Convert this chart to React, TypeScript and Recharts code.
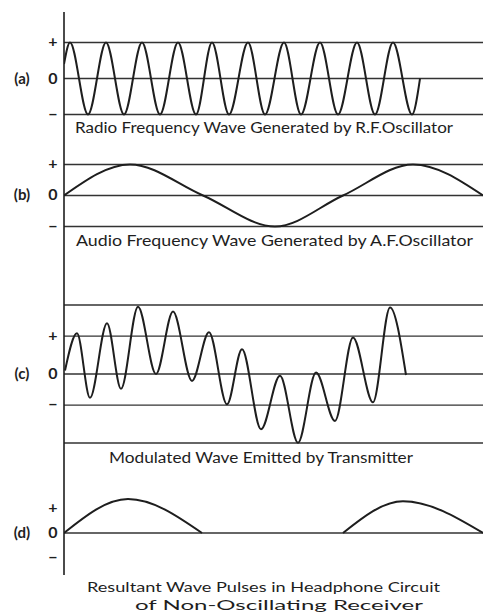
import { LineChart, Line, XAxis, YAxis, ReferenceLine } from 'recharts';

// time axis shared by all four traces (arbitrary units, 0 = vertical axis)
const timeDomain: [number, number] = [0, 419];

// (a) radio frequency carrier: start, then alternating crests / troughs
const rfTime = [0, 6, 24, 42, 60, 78, 96, 114, 132, 148, 165, 184, 201, 220, 237, 256, 274, 293, 311, 329, 348, 356];
const rfLevel = [0.4, 1, -1, 1, -1, 1, -1, 1, -1, 1, -1, 1, -1, 1, -1, 1, -1, 1, -1, 1, -1, 0];

// (b) audio frequency wave
const afTime = [0, 66, 139, 211, 279, 349, 419];
const afLevel = [0, 1, 0, -1, 0, 1, 0];

// (c) modulated wave
const modTime = [1, 13, 26, 43, 57, 74, 92, 109, 128, 145, 163, 178, 197, 216, 234, 252, 271, 289, 309, 326, 342];
const modLevel = [0.1, 1.18, -0.69, 1.47, -0.43, 1.95, 0, 1.81, -0.2, 1.21, -0.88, 0.72, -1.6, -0.05, -1.99, 0.04, -1.36, 1.06, -0.82, 1.93, -0.03];

// (d) rectified pulses in the headphone circuit
const pulse1Time = [0, 64, 138];
const pulse1Level = [0, 1.36, 0];
const pulse2Time = [279, 339, 419];
const pulse2Level = [0, 1.27, 0];

// guide lines drawn across each panel
const guidesA = [1, 0, -1];
const guidesB = [1, 0, -1];
const guidesC = [2, 1.1, 0, -0.9, -2];
const guidesD = [0];

const signTicksA = [1, 0, -1];
const signTicksB = [1, 0, -1];
const signTicksC = [1.1, 0, -0.9];
const signTicksD = [1, 0, -1];

const INK = '#1e1e1e';
const FONT = 'Lato, "Open Sans", sans-serif';

const toRows = (t: number[], v: number[]) => t.map((x, i) => ({ t: x, v: v[i] }));

function SignTick({ y, payload, tag }: any) {
    const val = payload.value;
    const sym = val > 0 ? '+' : val < 0 ? '\u2212' : '0';
    return (
        <g>
            <text x={53} y={y} dy={5} textAnchor="middle" fontSize={16} fontWeight={700} fill={INK} fontFamily={FONT}>
                {sym}
            </text>
            {val === 0 && (
                <text x={22} y={y} dy={5} textAnchor="middle" fontSize={15} fontWeight={700} fill={INK} fontFamily={FONT}>
                    {tag}
                </text>
            )}
        </g>
    );
}

interface PanelProps {
    height: number;
    top?: number;
    domain: [number, number];
    ticks: number[];
    guides: number[];
    tag: string;
    series: { t: number; v: number }[][];
}

function Panel({ height, top = 0, domain, ticks, guides, tag, series }: PanelProps) {
    return (
        <LineChart width={483} height={height} margin={{ top, right: 0, bottom: 0, left: 0 }}>
            <XAxis type="number" dataKey="t" domain={timeDomain} allowDataOverflow hide />
            <YAxis
                type="number"
                domain={domain}
                allowDataOverflow
                ticks={ticks}
                width={64}
                interval={0}
                tickLine={false}
                axisLine={{ stroke: INK, strokeWidth: 1.6 }}
                tick={(p: any) => <SignTick {...p} tag={tag} />}
            />
            {guides.map((g) => (
                <ReferenceLine key={g} y={g} stroke="#333" strokeWidth={1.3} />
            ))}
            {series.map((d, i) => (
                <Line
                    key={i}
                    data={d}
                    dataKey="v"
                    type="monotone"
                    stroke={INK}
                    strokeWidth={2}
                    dot={false}
                    activeDot={false}
                    isAnimationActive={false}
                />
            ))}
        </LineChart>
    );
}

const captionStyle = { fontFamily: FONT, fontSize: 16, fill: INK };
const footStyle = { fontFamily: FONT, fontSize: 14, fill: INK };

export default function App() {
    return (
        <div style={{ position: 'absolute', left: 0, top: 0, width: 483, height: 616, background: '#fff' }}>
            <Panel height={140} top={12} domain={[-1.708, 1.847]} ticks={signTicksA} guides={guidesA} tag="(a)"
                series={[toRows(rfTime, rfLevel)]} />
            <Panel height={122} domain={[-2.145, 1.79]} ticks={signTicksB} guides={guidesB} tag="(b)"
                series={[toRows(afTime, afLevel)]} />
            <Panel height={208} domain={[-2.783, 3.246]} ticks={signTicksC} guides={guidesC} tag="(c)"
                series={[toRows(modTime, modLevel)]} />
            <Panel height={105} domain={[-1.68, 2.52]} ticks={signTicksD} guides={guidesD} tag="(d)"
                series={[toRows(pulse1Time, pulse1Level), toRows(pulse2Time, pulse2Level)]} />
            <svg width={483} height={616} style={{ position: 'absolute', left: 0, top: 0, pointerEvents: 'none' }}>
                <text x={75} y={133} textLength={378} lengthAdjust="spacingAndGlyphs" style={captionStyle}>
                    Radio Frequency Wave Generated by R.F.Oscillator
                </text>
                <text x={76} y={246} textLength={397} lengthAdjust="spacingAndGlyphs" style={captionStyle}>
                    Audio Frequency Wave Generated by A.F.Oscillator
                </text>
                <text x={109} y={463} textLength={304} lengthAdjust="spacingAndGlyphs" style={captionStyle}>
                    Modulated Wave Emitted by Transmitter
                </text>
                <text x={87} y={592} textLength={353} lengthAdjust="spacingAndGlyphs" style={footStyle}>
                    Resultant Wave Pulses in Headphone Circuit
                </text>
                <text x={135} y={610} textLength={288} lengthAdjust="spacingAndGlyphs" style={footStyle}>
                    of Non-Oscillating Receiver
                </text>
            </svg>
        </div>
    );
}
